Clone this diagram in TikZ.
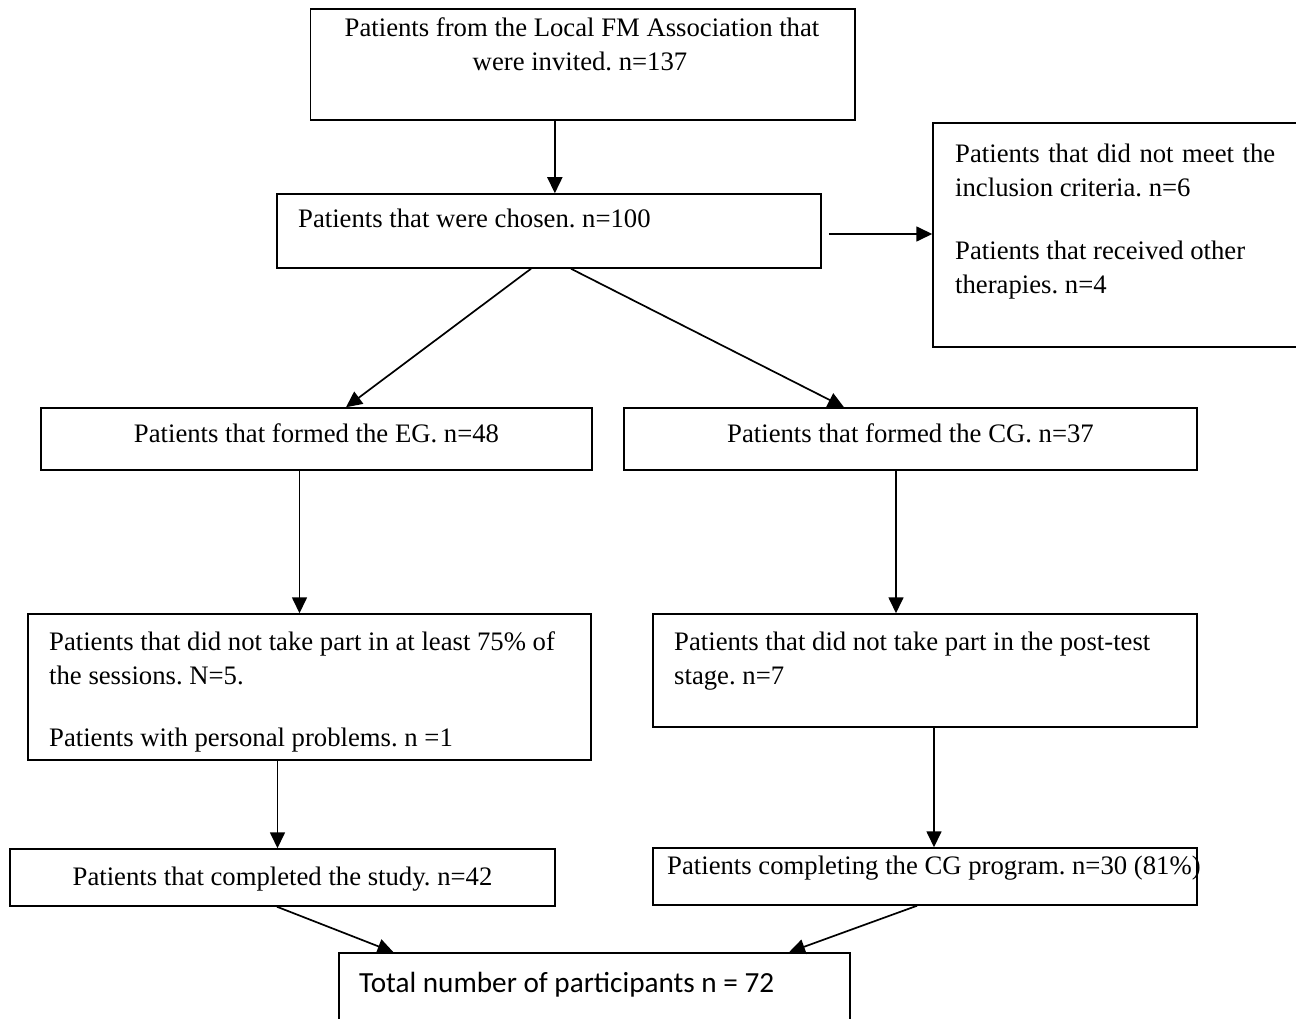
\documentclass[tikz,border=0pt]{standalone}
\usepackage{fontspec}
\setmainfont{Liberation Serif}
\newfontfamily\carlito{Carlito}
\usetikzlibrary{arrows.meta,fit,calc}
\tikzset{
  box/.style={draw, line width=1.5pt, inner sep=0pt},
  txt/.style={inner sep=0pt, anchor=base west},
  ctxt/.style={inner sep=0pt, anchor=base},
  arr/.style={line width=1.7pt, -{Triangle[length=16pt,width=15pt]}}
}
\frenchspacing
\begin{document}
\frenchspacing
\begin{tikzpicture}[x=1pt, y=-1pt, font=\fontsize{26.7}{34}\selectfont]
\useasboundingbox (0,0) rectangle (1296,1019);
\clip (0,0) rectangle (1296,1019);
% boxes
\node[box, fit={(310.7,9) (855,120)}] (top) {};
\node[box, fit={(277,194) (821,268)}] (b2) {};
\node[box, fit={(933,123) (1312,347)}] (rb) {};
\node[box, fit={(41,408) (592,470)}] (eg) {};
\node[box, fit={(624,408) (1197,470)}] (cg) {};
\node[box, fit={(28,614) (591,760)}] (eg2) {};
\node[box, fit={(653,614) (1197,727)}] (cg2) {};
\node[box, fit={(10,849) (555,906)}] (eg3) {};
\node[box, fit={(653,848) (1197,905)}] (cg3) {};
\node[box, fit={(339,953) (850,1045)}] (tot) {};
% texts
\node[ctxt] (t1a) at (582,37) {Patients from the Local FM Association that};
\node[ctxt] (t1b) at (580,71) {were invited. n=137};
\node[txt] (t2) at (298,228) {Patients that were chosen. n=100};
\node[txt] (r1) at (955,163) {\makebox[320pt][s]{Patients that did not meet the}};
\node[txt] (r2) at (955,197) {inclusion criteria. n=6};
\node[txt] (r3) at (955,259) {Patients that received other};
\node[txt] (r4) at (955,293) {therapies. n=4};
\node[ctxt] (teg) at (316.5,442) {Patients that formed the EG. n=48};
\node[ctxt] (tcg) at (910.5,442) {Patients that formed the CG. n=37};
\node[txt] (e1) at (49,650) {Patients that did not take part in at least 75\% of};
\node[txt] (e2) at (49,684) {the sessions. N=5.};
\node[txt] (e3) at (49,746) {Patients with personal problems. n =1};
\node[txt] (c1) at (674,650) {Patients that did not take part in the post-test};
\node[txt] (c2) at (674,684) {stage. n=7};
\node[ctxt] (teg3) at (282.5,885) {Patients that completed the study. n=42};
\node[txt] (tcg3) at (667,874) {Patients completing the CG program. n=30 (81\%)};
\node[txt] (ttot) at (359,992) {\carlito\fontsize{29.2}{34}\selectfont Total number of participants n = 72};
% arrows
\draw[arr] ([xshift=-28pt]top.south) -- ([xshift=-28pt]top.south |- b2.north);
\draw[arr] ([xshift=7pt,yshift=-3pt]b2.east) -- ([yshift=-3pt]b2.east -| rb.west);
\draw[arr] ([xshift=-18pt]b2.south) -- ([xshift=29.5pt]eg.north);
\draw[arr] ([xshift=22pt]b2.south) -- ([xshift=-66.5pt]cg.north);
\draw[arr] ([xshift=-17pt]eg.south) -- ([xshift=-17pt]eg.south |- eg2.north);
\draw[arr] ([xshift=-14.5pt]cg.south) -- ([xshift=-14.5pt]cg.south |- cg2.north);
\draw[arr] ([xshift=-5pt]eg3.north |- eg2.south) -- ([xshift=-5pt]eg3.north);
\draw[arr] ([xshift=9pt]cg2.south) -- ([xshift=9pt]cg2.south |- cg3.north);
\draw[arr] ([xshift=-5.5pt]eg3.south) -- ([xshift=-201pt]tot.north);
\draw[arr] ([xshift=-8pt]cg3.south) -- ([xshift=194.5pt]tot.north);
\end{tikzpicture}
\end{document}
